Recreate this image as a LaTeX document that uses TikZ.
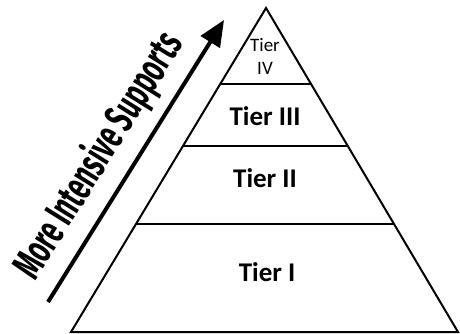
\documentclass[tikz,border=0pt]{standalone}
\usepackage{fontspec}
\setmainfont{Carlito}
\newfontfamily\arrowfont[FakeStretch=0.6]{Fira Sans}
\usetikzlibrary{arrows.meta,calc}

\begin{document}
\begin{tikzpicture}[x=1pt,y=-1pt]
      \tikzstyle{tier} = [font=\bfseries\fontsize{27}{27}\selectfont, anchor=base, inner sep=0pt]
      \tikzstyle{toptier} = [font=\fontsize{19}{23}\selectfont, align=center, inner sep=0pt]
      \tikzstyle{edge} = [line width=2pt, line join=miter]
      \tikzstyle{divider} = [line width=1.3pt]
      \tikzstyle{arrow} = [line width=4pt, -{Triangle[length=26pt,width=22pt]}]

      \useasboundingbox (0,0) rectangle (460,334);

      \coordinate (apex) at (266,8);
      \coordinate (bl) at (71,332);
      \coordinate (br) at (458,332);

      \draw[edge] (apex) -- (br) -- (bl) -- cycle;

      \draw[divider] ($(apex)!0.2346!(bl)$) -- ($(apex)!0.2346!(br)$);
      \draw[divider] ($(apex)!0.426!(bl)$) -- ($(apex)!0.426!(br)$);
      \draw[divider] ($(apex)!0.6667!(bl)$) -- ($(apex)!0.6667!(br)$);

      \node (t4) [toptier] at (265,56) {Tier\\IV};
      \node (t3) [tier] at (265,125) {Tier III};
      \node (t2) [tier] at (265,187) {Tier II};
      \node (t1) [tier] at (267,281) {Tier I};

      \coordinate (tail) at (48,302);
      \coordinate (tip) at (224,20);
      \draw [arrow] (tail) -- (tip);

      \node (more) [rotate=58.05, font=\arrowfont\bfseries\fontsize{42}{42}\selectfont, inner sep=0pt]
            at (99,156) {More Intensive Supports};
   \end{tikzpicture}
\end{document}
